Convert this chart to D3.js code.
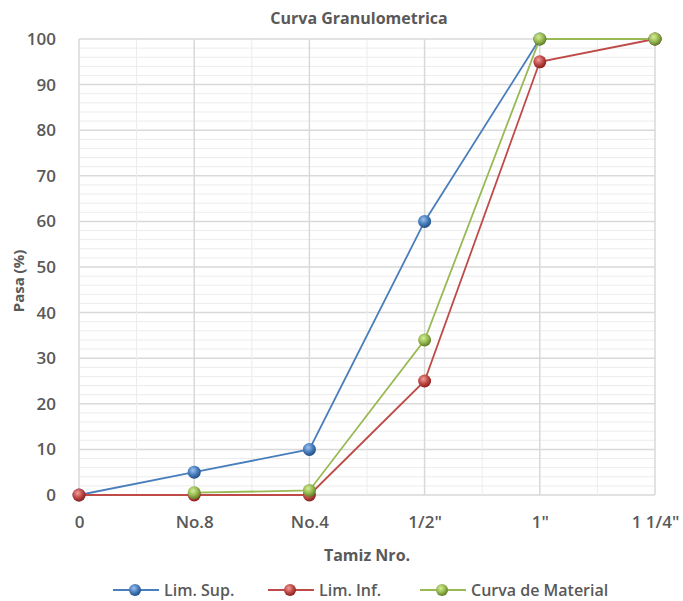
<!DOCTYPE html>
<html>
<head>
<meta charset="utf-8">
<script src="https://cdn.jsdelivr.net/npm/d3@7"></script>
<style>
  body { margin: 0; background: #fff; }
  text { font-family: "Open Sans", sans-serif; }
</style>
</head>
<body>
<svg id="chart" width="683" height="601"></svg>
<script>
// sieve sizes and percent passing
const categories = ['0', 'No.8', 'No.4', '1/2"', '1"', '1 1/4"']
const limSup = [0, 5, 10, 60, 100, 100]
const limInf = [0, 0, 0, 25, 95, 100]
const curva = [null, 0.5, 1, 34, 100, 100]
const yTicks = [0, 10, 20, 30, 40, 50, 60, 70, 80, 90, 100]

const series = [
  { name: 'Lim. Sup.', values: limSup, color: '#4a7ebb', light: '#9cc3f0', dark: '#1f4f8a' },
  { name: 'Lim. Inf.', values: limInf, color: '#be4b48', light: '#f3a09d', dark: '#8c1f1c' },
  { name: 'Curva de Material', values: curva, color: '#98b954', light: '#d4ef95', dark: '#5f7f22' }
]

const svg = d3.select('#chart')
const margin = { left: 79, right: 28, top: 39, bottom: 106 }
const W = 683, H = 601
const x = d3.scalePoint().domain(d3.range(categories.length)).range([margin.left, W - margin.right])
const y = d3.scaleLinear().domain([0, 100]).range([H - margin.bottom, margin.top])

const defs = svg.append('defs')
series.forEach((s, i) => {
  const g = defs.append('radialGradient').attr('id', 'ball' + i)
    .attr('cx', '40%').attr('cy', '35%').attr('r', '65%')
  g.append('stop').attr('offset', '0%').attr('stop-color', s.light)
  g.append('stop').attr('offset', '55%').attr('stop-color', s.color)
  g.append('stop').attr('offset', '100%').attr('stop-color', s.dark)
})

// grid
const grid = svg.append('g')
d3.range(0, 101, 2).forEach(v => {
  grid.append('line')
    .attr('x1', margin.left).attr('x2', W - margin.right)
    .attr('y1', y(v)).attr('y2', y(v))
    .attr('stroke', v % 10 === 0 ? '#d9d9d9' : '#ececec')
    .attr('stroke-width', v % 10 === 0 ? 1.5 : 1)
})
const step = x.step()
categories.forEach((c, i) => {
  grid.append('line')
    .attr('x1', x(i)).attr('x2', x(i))
    .attr('y1', y(0)).attr('y2', y(100))
    .attr('stroke', '#d9d9d9').attr('stroke-width', 1.5)
  if (i < categories.length - 1) {
    grid.append('line')
      .attr('x1', x(i) + step / 2).attr('x2', x(i) + step / 2)
      .attr('y1', y(0)).attr('y2', y(100))
      .attr('stroke', '#ececec')
  }
})

// axes
const yAxis = svg.append('g')
  .attr('transform', `translate(${margin.left},0)`)
  .call(d3.axisLeft(y).tickValues(yTicks).tickSize(0).tickPadding(23))
yAxis.select('.domain').remove()
yAxis.selectAll('text').attr('font-size', 17).attr('font-weight', 600).attr('fill', '#595959')

const xAxis = svg.append('g')
  .attr('transform', `translate(0,${y(0)})`)
  .call(d3.axisBottom(x).tickFormat(i => categories[i]).tickSize(0).tickPadding(21))
xAxis.select('.domain').remove()
xAxis.selectAll('text').attr('font-size', 17).attr('font-weight', 600).attr('fill', '#595959')

// lines
const line = d3.line()
  .defined(d => d != null)
  .x((d, i) => x(i))
  .y(d => y(d))

series.forEach((s, i) => {
  svg.append('path')
    .datum(s.values)
    .attr('fill', 'none')
    .attr('stroke', s.color)
    .attr('stroke-width', 1.8)
    .attr('d', line)
})
series.forEach((s, i) => {
  svg.append('g').selectAll('circle')
    .data(s.values.map((v, j) => ({ v, j })).filter(d => d.v != null))
    .join('circle')
    .attr('cx', d => x(d.j))
    .attr('cy', d => y(d.v))
    .attr('r', 6.5)
    .attr('fill', `url(#ball${i})`)
})

// titles
svg.append('text')
  .attr('x', 359).attr('y', 24)
  .attr('text-anchor', 'middle')
  .attr('font-size', 16).attr('font-weight', 'bold').attr('fill', '#595959')
  .text('Curva Granulometrica')

svg.append('text')
  .attr('x', 367).attr('y', 561)
  .attr('text-anchor', 'middle')
  .attr('font-size', 16).attr('font-weight', 'bold').attr('fill', '#595959')
  .text('Tamiz Nro.')

svg.append('text')
  .attr('transform', `translate(24,${(y(0) + y(100)) / 2 + 14}) rotate(-90)`)
  .attr('text-anchor', 'middle')
  .attr('font-size', 15).attr('font-weight', 'bold').attr('fill', '#595959')
  .text('Pasa (%)')

// legend
const legendX = [113, 268, 420]
series.forEach((s, i) => {
  const g = svg.append('g').attr('transform', `translate(${legendX[i]},590)`)
  g.append('line').attr('x1', 0).attr('x2', 46).attr('stroke', s.color).attr('stroke-width', 1.8)
  g.append('circle').attr('cx', 22).attr('r', 6).attr('fill', `url(#ball${i})`)
  g.append('text').attr('x', 51).attr('y', 6)
    .attr('font-size', 16).attr('font-weight', 600).attr('fill', '#595959').text(s.name)
})
</script>
</body>
</html>
